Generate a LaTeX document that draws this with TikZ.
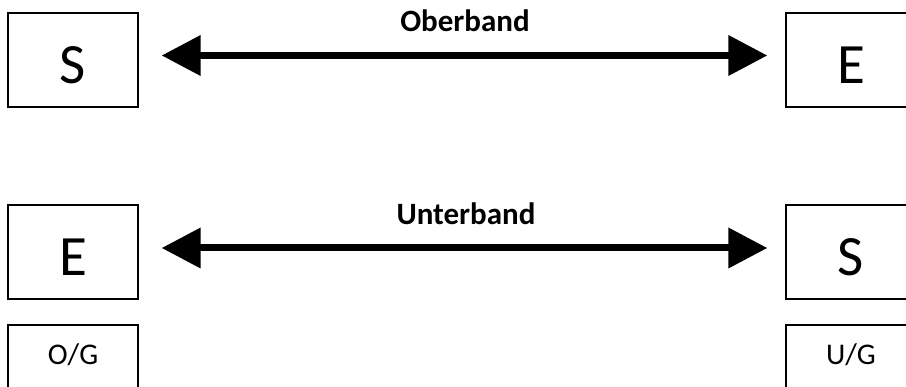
\documentclass[tikz,border=0pt]{standalone}
\usepackage{fontspec}
\setmainfont{Carlito}
\usetikzlibrary{arrows.meta}
\tikzset{
  bigbox/.style={draw=black, line width=1.3pt, minimum width=130pt, minimum height=94pt, inner sep=0pt,
    font=\fontsize{57}{60}\selectfont, text height=47pt, text depth=0pt},
  smallbox/.style={draw=black, line width=1.3pt, minimum width=130pt, minimum height=94pt, inner sep=0pt,
    font=\fontsize{30}{32}\selectfont, text height=0pt, text depth=14pt},
  bandlabel/.style={font=\fontsize{31}{34}\selectfont\bfseries, anchor=base, inner sep=0pt},
  bigarrow/.style={line width=7pt, {Triangle[length=39pt,width=39pt]}-{Triangle[length=39pt,width=39pt]}}
}
\begin{document}
\begin{tikzpicture}[x=1pt,y=-1pt]
\useasboundingbox (0,0) rectangle (906,387);
\clip (0,0) rectangle (906,387);
\fill[white] (0,0) rectangle (906,387);
\node[bigbox] (s1) at (73,60) {S};
\node[bigbox] (e1) at (851,60) {E};
\node[bigbox] (e2) at (73,252) {E};
\node[bigbox] (s2) at (851,252) {S};
\node[smallbox] (og) at (73,372) {O/G};
\node[smallbox] (ug) at (851,372) {U/G};
\node[bandlabel] (ob) at (465,32) {Oberband};
\node[bandlabel] (ub) at (466,225) {Unterband};
\draw[bigarrow] ([xshift=23pt,yshift=4.5pt]s1.east) -- ([xshift=-18pt,yshift=4.5pt]e1.west);
\draw[bigarrow] ([xshift=23pt,yshift=4pt]e2.east) -- ([xshift=-18pt,yshift=4pt]s2.west);
\end{tikzpicture}
\end{document}
